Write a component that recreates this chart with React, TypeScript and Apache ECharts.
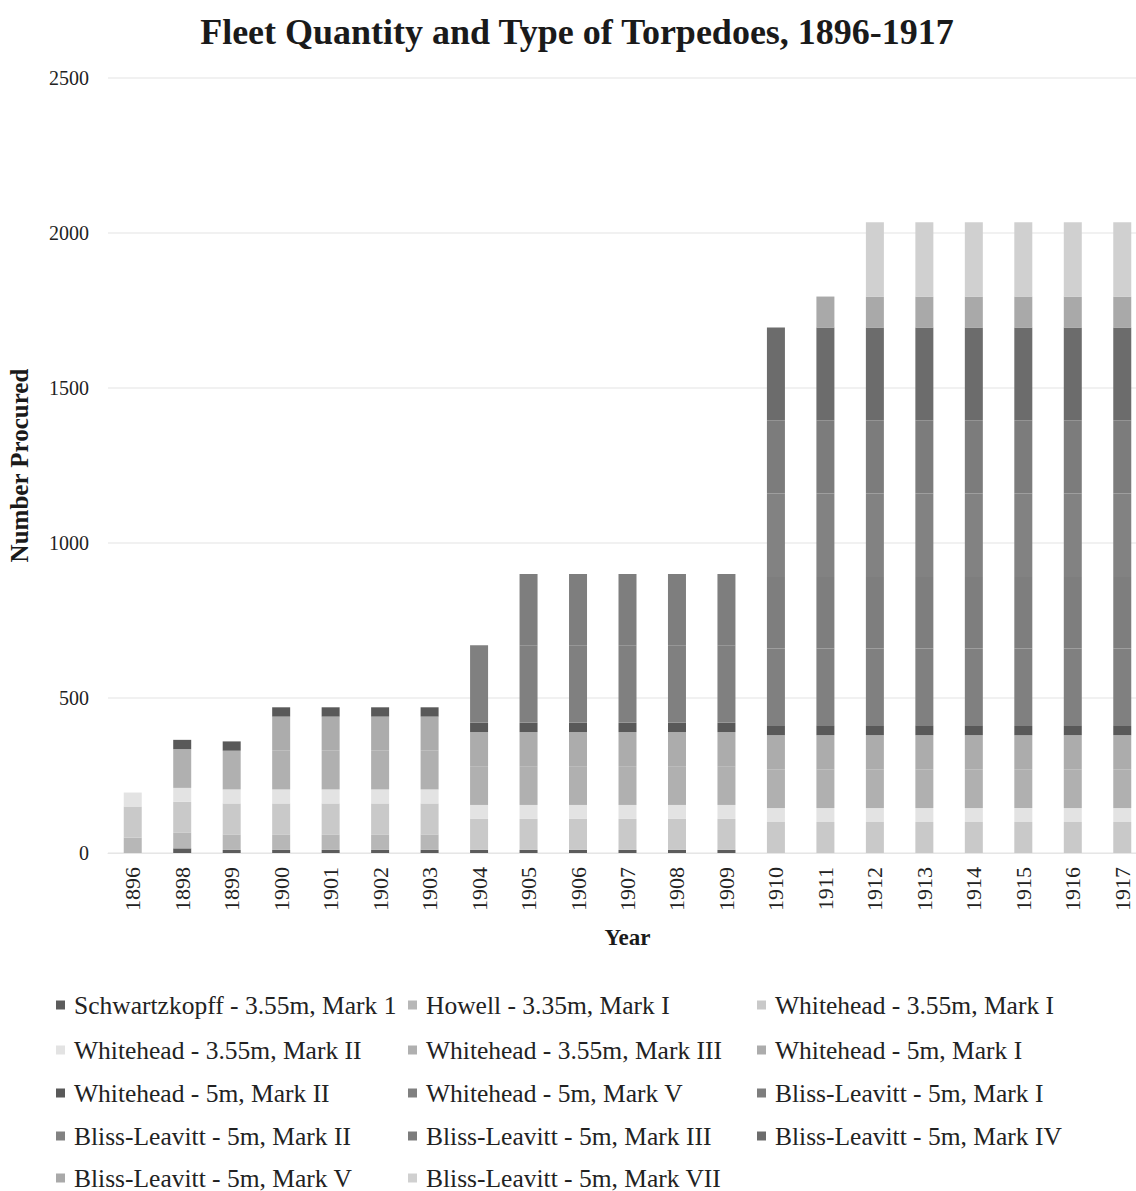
import React, { useEffect, useRef } from "react";
import * as echarts from "echarts";

// Fleet torpedo inventory by year and type
const years = [
  "1896", "1898", "1899", "1900", "1901", "1902", "1903", "1904", "1905", "1906", "1907",
  "1908", "1909", "1910", "1911", "1912", "1913", "1914", "1915", "1916", "1917",
];

const schwartzkopff = [0, 15, 10, 10, 10, 10, 10, 10, 10, 10, 10, 10, 10, 0, 0, 0, 0, 0, 0, 0, 0];
const howell = [50, 50, 50, 50, 50, 50, 50, 0, 0, 0, 0, 0, 0, 0, 0, 0, 0, 0, 0, 0, 0];
const wh355Mk1 = [100, 100, 100, 100, 100, 100, 100, 100, 100, 100, 100, 100, 100, 100, 100, 100, 100, 100, 100, 100, 100];
const wh355Mk2 = [45, 45, 45, 45, 45, 45, 45, 45, 45, 45, 45, 45, 45, 45, 45, 45, 45, 45, 45, 45, 45];
const wh355Mk3 = [0, 125, 125, 125, 125, 125, 125, 125, 125, 125, 125, 125, 125, 125, 125, 125, 125, 125, 125, 125, 125];
const wh5Mk1 = [0, 0, 0, 110, 110, 110, 110, 110, 110, 110, 110, 110, 110, 110, 110, 110, 110, 110, 110, 110, 110];
const wh5Mk2 = [0, 30, 30, 30, 30, 30, 30, 30, 30, 30, 30, 30, 30, 30, 30, 30, 30, 30, 30, 30, 30];
const wh5Mk5 = [0, 0, 0, 0, 0, 0, 0, 250, 250, 250, 250, 250, 250, 250, 250, 250, 250, 250, 250, 250, 250];
const bl5Mk1 = [0, 0, 0, 0, 0, 0, 0, 0, 230, 230, 230, 230, 230, 230, 230, 230, 230, 230, 230, 230, 230];
const bl5Mk2 = [0, 0, 0, 0, 0, 0, 0, 0, 0, 0, 0, 0, 0, 270, 270, 270, 270, 270, 270, 270, 270];
const bl5Mk3 = [0, 0, 0, 0, 0, 0, 0, 0, 0, 0, 0, 0, 0, 235, 235, 235, 235, 235, 235, 235, 235];
const bl5Mk4 = [0, 0, 0, 0, 0, 0, 0, 0, 0, 0, 0, 0, 0, 300, 300, 300, 300, 300, 300, 300, 300];
const bl5Mk5 = [0, 0, 0, 0, 0, 0, 0, 0, 0, 0, 0, 0, 0, 0, 100, 100, 100, 100, 100, 100, 100];
const bl5Mk7 = [0, 0, 0, 0, 0, 0, 0, 0, 0, 0, 0, 0, 0, 0, 0, 240, 240, 240, 240, 240, 240];

const yTicks = [0, 500, 1000, 1500, 2000, 2500];

const seriesDefs = [
  { name: "Schwartzkopff - 3.55m, Mark 1", data: schwartzkopff, color: "#5c5c5c" },
  { name: "Howell - 3.35m, Mark I", data: howell, color: "#b7b7b7" },
  { name: "Whitehead - 3.55m, Mark I", data: wh355Mk1, color: "#c9c9c9" },
  { name: "Whitehead - 3.55m, Mark II", data: wh355Mk2, color: "#e3e3e3" },
  { name: "Whitehead - 3.55m, Mark III", data: wh355Mk3, color: "#b0b0b0" },
  { name: "Whitehead - 5m, Mark I", data: wh5Mk1, color: "#acacac" },
  { name: "Whitehead - 5m, Mark II", data: wh5Mk2, color: "#595959" },
  { name: "Whitehead - 5m, Mark V", data: wh5Mk5, color: "#808080" },
  { name: "Bliss-Leavitt - 5m, Mark I", data: bl5Mk1, color: "#7e7e7e" },
  { name: "Bliss-Leavitt - 5m, Mark II", data: bl5Mk2, color: "#828282" },
  { name: "Bliss-Leavitt - 5m, Mark III", data: bl5Mk3, color: "#7c7c7c" },
  { name: "Bliss-Leavitt - 5m, Mark IV", data: bl5Mk4, color: "#6c6c6c" },
  { name: "Bliss-Leavitt - 5m, Mark V", data: bl5Mk5, color: "#a9a9a9" },
  { name: "Bliss-Leavitt - 5m, Mark VII", data: bl5Mk7, color: "#d0d0d0" },
];

const FONT = "'Liberation Serif', 'Times New Roman', serif";

export default function App() {
  const ref = useRef<HTMLDivElement>(null);

  useEffect(() => {
    document.body.style.margin = "0";
    document.body.style.overflow = "hidden";
    if (!ref.current) return;
    const chart = echarts.init(ref.current, null, { renderer: "svg" });

    // legend laid out as a 3-column table, one legend per entry
    const colLefts = [56, 408, 757];
    const rowTops = [992, 1037, 1080, 1123, 1165];
    const legends = seriesDefs.map((s, i) => ({
      orient: "horizontal",
      left: colLefts[i % 3],
      top: rowTops[Math.floor(i / 3)],
      padding: 0,
      data: [s.name],
      icon: "rect",
      itemWidth: 9,
      itemHeight: 9,
      textStyle: {
        fontFamily: FONT,
        fontSize: 25.5,
        color: "#222",
        padding: [0, 0, 0, 4],
      },
      selectedMode: false,
    }));

    chart.setOption({
      animation: false,
      backgroundColor: "#fff",
      title: {
        text: "Fleet Quantity and Type of Torpedoes, 1896-1917",
        left: 572,
        textAlign: "center",
        top: 9,
        textStyle: { fontFamily: FONT, fontSize: 36, fontWeight: "bold", color: "#1a1a1a" },
      },
      legend: legends,
      grid: { left: 108, top: 78, width: 1039, height: 775, outerBoundsMode: "none", containLabel: false },
      xAxis: {
        type: "category",
        data: years,
        name: "Year",
        nameLocation: "middle",
        nameGap: 73,
        nameTextStyle: { fontFamily: FONT, fontSize: 23, fontWeight: "bold", color: "#1a1a1a" },
        axisTick: { show: false },
        axisLine: { lineStyle: { color: "#e6e6e6" } },
        axisLabel: {
          rotate: 90,
          margin: 14,
          fontFamily: FONT,
          fontSize: 22,
          color: "#222",
          interval: 0,
        },
      },
      yAxis: {
        type: "value",
        min: yTicks[0],
        max: yTicks[yTicks.length - 1],
        interval: 500,
        name: "Number Procured",
        nameLocation: "middle",
        nameGap: 76,
        nameTextStyle: { fontFamily: FONT, fontSize: 25, fontWeight: "bold", color: "#1a1a1a" },
        axisLine: { show: false },
        axisTick: { show: false },
        axisLabel: {
          fontFamily: FONT,
          fontSize: 20,
          color: "#222",
          margin: 19,
          formatter: (v: number) => String(v),
        },
        splitLine: { lineStyle: { color: "#ececec", width: 1.5 } },
      },
      series: seriesDefs.map((s) => ({
        type: "bar",
        name: s.name,
        stack: "total",
        data: s.data,
        barWidth: 18,
        itemStyle: { color: s.color },
      })),
    });

    return () => chart.dispose();
  }, []);

  return (
    <div
      ref={ref}
      style={{ position: "absolute", left: 0, top: 0, width: 1150, height: 1191 }}
    />
  );
}
